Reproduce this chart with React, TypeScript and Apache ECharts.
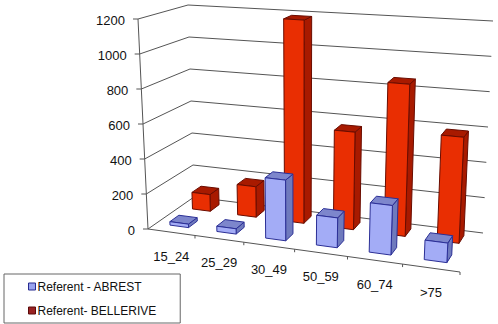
import React, { useEffect, useRef } from "react";
import * as echarts from "echarts";

const categories = ["15_24", "25_29", "30_49", "50_59", "60_74", ">75"];
const abrest = [20, 30, 340, 165, 270, 105];
const bellerive = [100, 180, 1185, 560, 860, 590];
const yTicks = [0, 200, 400, 600, 800, 1000, 1200];
const seriesNames = ["Referent - ABREST", "Referent- BELLERIVE"];

const W = 498;
const H = 324;
const GRID = { left: 0, right: 0, top: 0, bottom: 0 };

// Corners of the 3D box in page pixels [u, v, d]
const F0L = [148, 229], F1L = [138, 19], B0L = [194, 197], B1L = [188, 5];
const F0R = [460, 272], F1R = [472, 45], B0R = [483, 233], B1R = [493, 21];
const lerp = (a: number[], b: number[], t: number) => [a[0] + (b[0] - a[0]) * t, a[1] + (b[1] - a[1]) * t];
const persp = (u: number) => u / (u + 1.128 * (1 - u));
function project(u: number, v: number, d: number) {
  const t = persp(u);
  const bottom = lerp(lerp(F0L, F0R, t), lerp(B0L, B0R, t), d);
  const top = lerp(lerp(F1L, F1R, t), lerp(B1L, B1R, t), d);
  return lerp(bottom, top, v);
}

function barRender(d0: number, d1: number, c: { front: string; side: string; top: string; edge: string }) {
  return (_p: any, api: any) => {
    const pt = api.coord([api.value(0), api.value(1)]);
    const half = (api.size([1, 0])[0] * 0.4) / 2;
    const u0 = (pt[0] - half) / W;
    const u1 = (pt[0] + half) / W;
    const v = (H - pt[1]) / H;
    const st = (fill: string) => ({ fill, stroke: c.edge, lineWidth: 1, lineJoin: "round" });
    const poly = (pts: number[][], fill: string) => ({ type: "polygon", shape: { points: pts }, style: st(fill) });
    return {
      type: "group",
      children: [
        poly([project(u1, 0, d0), project(u1, 0, d1), project(u1, v, d1), project(u1, v, d0)], c.side),
        poly([project(u0, v, d0), project(u1, v, d0), project(u1, v, d1), project(u0, v, d1)], c.top),
        poly([project(u0, 0, d0), project(u1, 0, d0), project(u1, v, d0), project(u0, v, d0)], c.front),
      ],
    };
  };
}

const LINE = { stroke: "#555555", lineWidth: 1, fill: "none" };
const TEXT = { fill: "#111", font: "13px 'Liberation Sans', Arial, sans-serif" };

function gridRender(_p: any, api: any) {
  const pt = api.coord([0, api.value(1)]);
  const v = (H - pt[1]) / H;
  const a = project(0, v, 0);
  const children: any[] = [
    { type: "polyline", shape: { points: [a, project(0, v, 1), project(1, v, 1)] }, style: LINE },
    { type: "line", shape: { x1: a[0] - 5, y1: a[1], x2: a[0], y2: a[1] }, style: LINE },
    { type: "text", style: { ...TEXT, text: String(api.value(1)), x: a[0] - 13, y: a[1] + 1.5, align: "right", verticalAlign: "middle" } },
  ];
  return { type: "group", children };
}

function xAxisRender(_p: any, api: any) {
  const i = api.value(0);
  const pt = api.coord([i, 0]);
  const half = api.size([1, 0])[0] / 2;
  const uc = pt[0] / W;
  const ur = (pt[0] + half) / W;
  const tick = project(ur, 0, 0);
  const c = project(uc, 0, 0);
  const children: any[] = [
    { type: "line", shape: { x1: tick[0], y1: tick[1], x2: tick[0], y2: tick[1] + 3 }, style: LINE },
    { type: "text", style: { ...TEXT, text: categories[i], x: c[0], y: c[1] + 24, align: "center", verticalAlign: "middle" } },
  ];
  if (i === 0) {
    const o = project(0, 0, 0);
    children.push(
      { type: "line", shape: { x1: o[0], y1: o[1], x2: project(1, 0, 0)[0], y2: project(1, 0, 0)[1] }, style: LINE },
      { type: "line", shape: { x1: o[0], y1: o[1], x2: project(0, 1, 0)[0], y2: project(0, 1, 0)[1] }, style: LINE },
    );
  }
  return { type: "group", children };
}

export default function App() {
  const ref = useRef<HTMLDivElement>(null);
  useEffect(() => {
    const chart = echarts.init(ref.current!, undefined, { renderer: "svg" });
    const blue = { front: "#a3acf6", side: "#6f7abd", top: "#7d86cc", edge: "#2b2f96" };
    const red = { front: "#e92e02", side: "#a81a00", top: "#a81a00", edge: "#6a0c00" };
    chart.setOption({
      animation: false,
      backgroundColor: "#fff",
      grid: GRID,
      xAxis: { type: "category", data: categories, show: false },
      yAxis: { type: "value", min: 0, max: 1200, interval: 200, show: false },
      legend: {
        left: 4,
        top: 274,
        orient: "vertical",
        data: [
          { name: seriesNames[0], icon: "rect", itemStyle: { color: "#98a2ee", borderColor: "#262a90", borderWidth: 1 } },
          { name: seriesNames[1], icon: "rect", itemStyle: { color: "#992222", borderColor: "#5a0a0a", borderWidth: 1 } },
        ],
        itemWidth: 7,
        itemHeight: 7,
        itemGap: 12,
        padding: [6.5, 24, 6.5, 24],
        borderColor: "#666",
        borderWidth: 1,
        textStyle: { fontFamily: "'Liberation Sans', Arial, sans-serif", fontSize: 12, color: "#111", padding: [0, 0, 0, -3] },
      },
      series: [
        { type: "custom", silent: true, clip: false, renderItem: gridRender, encode: { x: 0, y: 1 }, data: yTicks.map((t) => [0, t]) },
        { type: "custom", silent: true, clip: false, renderItem: xAxisRender, encode: { x: 0, y: 1 }, data: categories.map((_, i) => [i, 0]) },
        { type: "custom", name: seriesNames[1], clip: false, renderItem: barRender(0.68, 0.88, red), itemStyle: { color: red.front }, encode: { x: 0, y: 1 }, data: bellerive.map((v, i) => [i, v]) },
        { type: "custom", name: seriesNames[0], clip: false, renderItem: barRender(0.18, 0.38, blue), itemStyle: { color: blue.front }, encode: { x: 0, y: 1 }, data: abrest.map((v, i) => [i, v]) },
      ],
    });
    return () => chart.dispose();
  }, []);
  return <div ref={ref} style={{ position: "absolute", left: 0, top: 0, width: W, height: H }} />;
}
